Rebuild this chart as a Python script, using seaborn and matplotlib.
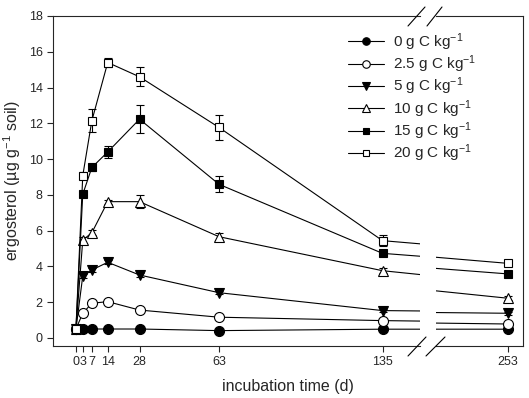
import pandas as pd
import matplotlib.pyplot as plt
import seaborn as sns
from matplotlib.lines import Line2D

# incubation days and mean ergosterol (ug g-1 soil) per C addition level
days = [0, 3, 7, 14, 28, 63, 135, 253]
levels = ["0", "2.5", "5", "10", "15", "20"]
erg_0 = [0.5, 0.5, 0.5, 0.5, 0.5, 0.41, 0.49, 0.49]
erg_2_5 = [0.5, 1.38, 1.94, 2.03, 1.56, 1.16, 0.97, 0.78]
erg_5 = [0.5, 3.46, 3.80, 4.23, 3.52, 2.53, 1.53, 1.38]
erg_10 = [0.5, 5.47, 5.88, 7.62, 7.62, 5.66, 3.76, 2.22]
erg_15 = [0.5, 8.03, 9.53, 10.4, 12.23, 8.59, 4.73, 3.58]
erg_20 = [0.5, 9.07, 12.14, 15.4, 14.6, 11.77, 5.44, 4.17]
# standard errors
se_0 = [0.05, 0.05, 0.05, 0.05, 0.05, 0.05, 0.05, 0.05]
se_2_5 = [0.05, 0.1, 0.1, 0.1, 0.08, 0.08, 0.08, 0.05]
se_5 = [0.05, 0.1, 0.1, 0.12, 0.1, 0.1, 0.1, 0.08]
se_10 = [0.05, 0.15, 0.15, 0.12, 0.35, 0.2, 0.15, 0.1]
se_15 = [0.05, 0.15, 0.2, 0.34, 0.77, 0.44, 0.15, 0.1]
se_20 = [0.05, 0.2, 0.65, 0.23, 0.53, 0.7, 0.3, 0.12]

means = [erg_0, erg_2_5, erg_5, erg_10, erg_15, erg_20]
errs = [se_0, se_2_5, se_5, se_10, se_15, se_20]

rows = []
for lvl, m, e in zip(levels, means, errs):
    for d, v, s in zip(days, m, e):
        rows.append({"level": lvl, "day": d, "ergosterol": v, "se": s})
df = pd.DataFrame(rows)

sns.set_style("ticks")
plt.rcParams['font.family'] = ['Liberation Sans', 'DejaVu Sans']
plt.rcParams['mathtext.default'] = 'regular'

styles = {
    "0": dict(marker="o", mfc="black", ms=7.2),
    "2.5": dict(marker="o", mfc="white", ms=7.2),
    "5": dict(marker="v", mfc="black", ms=7),
    "10": dict(marker="^", mfc="white", ms=7),
    "15": dict(marker="s", mfc="black", ms=6.3),
    "20": dict(marker="s", mfc="white", ms=6.3),
}

fig = plt.figure(figsize=(5.29, 3.98), dpi=100)
W, H = 529, 398
ax1 = fig.add_axes([53 / W, 1 - 346 / H, (420 - 53) / W, 330 / H])
ax2 = fig.add_axes([436 / W, 1 - 346 / H, (523 - 436) / W, 330 / H], sharey=ax1)

for ax in (ax1, ax2):
    for lvl in levels:
        sub = df[df["level"] == lvl]
        st = styles[lvl]
        ax.errorbar(sub["day"], sub["ergosterol"], yerr=sub["se"], fmt="none",
                    ecolor="black", elinewidth=0.8, capsize=3.2, capthick=0.8, zorder=2)
        sns.lineplot(data=sub, x="day", y="ergosterol", ax=ax, color="black",
                     linewidth=0.8, marker=st["marker"], markersize=st["ms"],
                     markerfacecolor=st["mfc"], markeredgecolor="black",
                     markeredgewidth=0.8, label=f"{lvl} g C kg$^{{-1}}$", zorder=3)

ax1.set_xlim(-10.1, 151.5)
ax2.set_xlim(221.3, 259.6)
ax1.set_ylim(-0.45, 18)
ax1.set_yticks(range(0, 19, 2))
ax1.set_xticks([0, 3, 7, 14, 28, 63, 135])
ax1.set_xticklabels(["0", "3", "7", "14", "28", "63", "135"])
ax2.set_xticks([253])
ax2.set_xticklabels(["253"])

for ax in (ax1, ax2):
    for s in ax.spines.values():
        s.set_linewidth(0.8)
    ax.tick_params(direction="out", length=4.5, width=0.8, labelsize=9, pad=3)
    ax.set_xlabel("")
    ax.set_ylabel("")
    ax.legend().remove()

ax1.spines["right"].set_visible(False)
ax2.spines["left"].set_visible(False)
ax2.tick_params(axis="y", left=False, labelleft=False)

ax1.set_ylabel("ergosterol (µg g$^{-1}$ soil)", fontsize=11.5, labelpad=4)
fig.text(288 / W, 1 - 386 / H, "incubation time (d)", ha="center", va="center", fontsize=11.5)

# break marks
for (x0, y0, x1, y1) in [(408, 26, 425, 7), (427, 26, 442, 7),
                         (408, 356, 426, 337), (426, 356, 445, 337)]:
    fig.add_artist(Line2D([x0 / W, x1 / W], [1 - y0 / H, 1 - y1 / H],
                          color="black", linewidth=0.8))

handles, labels = ax1.get_legend_handles_labels()
fig.legend(handles, labels, loc="upper left", bbox_to_anchor=(348 / W, 1 - 31 / H),
           frameon=False, fontsize=11, borderpad=0, borderaxespad=0, markerscale=0.75,
           labelspacing=0.05, handlelength=2.35, handletextpad=0.6)

fig.savefig("out.png", dpi=100)
